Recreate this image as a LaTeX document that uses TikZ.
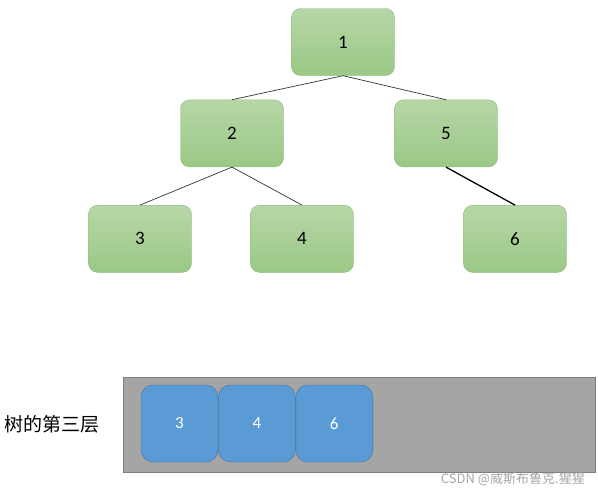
\documentclass[tikz,border=0pt]{standalone}
\usepackage{fontspec}
\setmainfont{Carlito}
\newfontfamily\cjk{Noto Sans CJK SC}
\usetikzlibrary{positioning}
\definecolor{leaftop}{HTML}{B6D7A6}
\definecolor{leafbot}{HTML}{9BC886}
\definecolor{leafedge}{HTML}{8CBB77}
\definecolor{cellblue}{HTML}{5B9BD5}
\definecolor{celledge}{HTML}{41719C}
\definecolor{bargray}{HTML}{A5A5A5}
\definecolor{baredge}{HTML}{7F7F7F}
\tikzset{
  treenode/.style={rectangle, rounded corners=9pt, draw=leafedge, top color=leaftop, bottom color=leafbot, minimum width=103pt, minimum height=67pt, font=\fontsize{19}{19}\selectfont},
  levelbar/.style={rectangle, draw=baredge, fill=bargray, minimum width=472pt, minimum height=95pt},
  cell/.style={rectangle, rounded corners=12pt, draw=celledge, fill=cellblue, text=white, minimum width=77pt, minimum height=77pt, font=\fontsize{17}{17}\selectfont},
  treeedge/.style={draw=black!80, line width=0.7pt}
}
\begin{document}
\begin{tikzpicture}[x=1pt,y=-1pt]
\useasboundingbox (0,0) rectangle (598,493);
% tree
\node[treenode] (n1) at (343,42) {1};
\node[treenode, below=24pt of n1, xshift=-111pt] (n2) {2};
\node[treenode, below=24pt of n1, xshift=103pt] (n5) {5};
\node[treenode, below=38pt of n2, xshift=-92pt] (n3) {3};
\node[treenode, below=38pt of n2, xshift=70pt] (n4) {4};
\node[treenode, below=38pt of n5, xshift=69pt] (n6) {6};
\draw[treeedge] (n1.south) -- (n2.north);
\draw[treeedge] (n1.south) -- (n5.north);
\draw[treeedge] (n2.south) -- (n3.north);
\draw[treeedge] (n2.south) -- (n4.north);
\draw[treeedge, draw=black, line width=1.3pt] (n5.south) -- (n6.north);
% third level as a row
\node[levelbar] (level) at (359,424.5) {};
\node[cell] (c3) at (179.5,423.5) {3};
\node[cell, right=0pt of c3] (c4) {4};
\node[cell, right=0pt of c4] (c6) {6};
\node[left=23pt of level, inner sep=0pt, font=\cjk\fontsize{19}{19}\selectfont] (lvlname) {树的第三层};
\node[anchor=east, inner sep=0pt, text=black!35, font=\cjk\fontsize{13}{13}\selectfont] (wm) at (585,479) {CSDN @威斯布鲁克.猩猩};
\end{tikzpicture}
\end{document}
